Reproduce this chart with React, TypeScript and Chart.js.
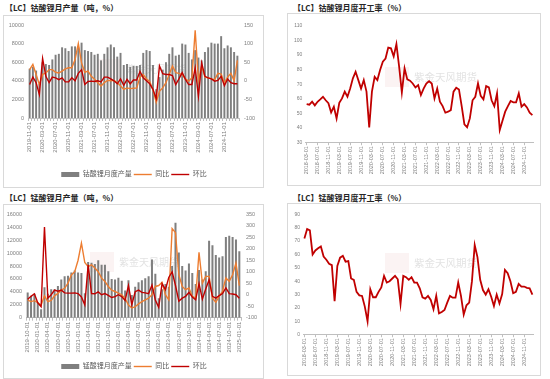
import React, { useEffect, useRef } from "react";
import { Chart, registerables } from "chart.js";
Chart.register(...registerables);

const FONT = '"Liberation Sans", "Noto Sans CJK SC", sans-serif';
const TICK_COLOR = "#7f7f7f";
const AXIS_COLOR = "#bfbfbf";
const BAR_COLOR = "#7f7f7f";
const ORANGE = "#ED7D31";
const RED = "#C00000";

function monthLabels(y: number, m: number, n: number): string[] {
  const out: string[] = [];
  for (let i = 0; i < n; i++) {
    const mm = ((m - 1 + i) % 12) + 1;
    const yy = y + Math.floor((m - 1 + i) / 12);
    out.push(`${yy}-${String(mm).padStart(2, "0")}-01`);
  }
  return out;
}

// ---- 钴酸锂月产量 (2019-11 .. 2025-03)
const lcoLabels = monthLabels(2019, 11, 65);
const lcoOutput = [
  5300, 5500, 5100, 3700, 6000, 5800, 5700, 6300, 6800, 6900,
  7600, 7500, 7200, 7700, 7700, 7600, 8100, 7300, 7200, 7100,
  6800, 6900, 6200, 6900, 7600, 7900, 7600, 6600, 7000, 5700,
  5800, 5500, 5600, 5600, 5700, 7000, 7300, 7200, 5700, 3100,
  4400, 5200, 6000, 6900, 7600, 6700, 6800, 8000, 7900, 7000,
  6300, 7300, 6500, 6200, 7100, 7600, 8100, 8000, 8000, 8800,
  7500, 7800, 7600, 7100, 6700,
];
const lcoYoY = [
  30, 44, 17, -10, 17, 21, 30, 30, 23, 21,
  26, 32, 35, 35, 57, 100, 48, 23, 26, 12,
  4, -5, -14, -5, 1, 0, 1, -5, -14, -23,
  -19, -21, -20, -19, 10, 17, 5, -2, -25, -58,
  -28, -19, -5, 17, 40, 22, 20, 17, 5, -1,
  8, 136, 0, 40, 10, 8, 5, 3, 20, 18,
  -5, 10, 20, 0, 55,
];
const lcoMoM = [
  -10, 10, -5, -37, 60, 12, -5, 10, 8, 3,
  8, -3, -3, 8, 0, 20, 30, -10, -2, -1,
  -2, 0, -3, 10, 10, 5, 0, -8, 5, -12,
  4, -8, 2, 2, 25, 8, 0, -8, -23, -48,
  40, 19, 17, 17, 14, -10, 5, 22, 4, -10,
  -10, 35, -41, 48, 12, 8, 5, -1, 1, 12,
  -13, 5, -5, -8, -8,
];

// ---- 钴酸锂月度开工率 (2018-03 .. 2025-02)
const lcoRateLabels = monthLabels(2018, 3, 84);
const lcoRate = [
  56.4, 56, 58, 55.5, 58, 59.6, 61.4, 59, 57, 50.7,
  54.6, 46.6, 57.3, 60.3, 64.9, 61.4, 67, 74, 78.5, 72.8,
  67, 72.8, 64.9, 40.5, 64.9, 75, 72.8, 79.7, 85.4, 87.6,
  95, 94.5, 89, 97.4, 82, 64.4, 80.8, 73.3, 72.4, 70.5,
  67.8, 69.4, 62.6, 67, 70.5, 72, 70.5, 60.3, 67, 58,
  55, 50.5, 51.2, 52.3, 64.9, 67.6, 66.4, 55, 42.5, 40.5,
  46.6, 59, 61.4, 70.5, 62, 59.6, 68.7, 67.8, 59, 55,
  63.7, 38.7, 45, 51.2, 55, 58.5, 57.6, 57.6, 63.7, 54.6,
  56.4, 54.1, 50.5, 48.9,
];

// ---- 锰酸锂月产量 (2019-10 .. 2025-01)
const lmoLabels = monthLabels(2019, 10, 64);
const lmoOutput = [
  3900, 3400, 3700, 2400, 1300, 4700, 3700, 4400, 4400, 4900,
  5900, 6400, 6500, 7000, 7300, 7000, 6900, 3800, 8600, 8500,
  8300, 8900, 8200, 8200, 7200, 6000, 5900, 6200, 5700, 4200,
  5800, 3500, 4800, 5500, 5800, 6100, 6400, 9000, 6800, 3000,
  4400, 5200, 4800, 8000, 14700, 10100, 8000, 7300, 8400, 6900,
  5200, 7400, 5900, 7200, 11900, 11200, 9700, 9300, 9500, 12500,
  12700, 12500, 12100, 10300,
];
const lmoYoY = [
  -23, -30, -26, -35, -45, -5, -30, -25, -5, 6,
  20, 28, 50, 86, 100, 150, 225, 140, 122, 130,
  116, 100, 72, 58, 36, 20, 14, 7, 0, -16,
  -45, -58, -52, -40, -30, -22, -15, 0, 36, 40,
  54, 0, -22, 288, 270, 87, 36, 22, 29, -7,
  -15, 185, 51, 80, 80, -15, -33, -7, 15, 73,
  58, 87, 138, 40,
];
const lmoMoM = [
  -20, -7, 4, -35, -52, 295, -15, 0, 20, 15,
  20, 8, 7, 7, 8, 5, -10, -44, 130, 5,
  4, 12, 0, 5, -3, -12, -8, 0, -8, -25,
  40, -43, 13, 20, 10, 8, 5, 42, -23, -55,
  48, 22, 75, 100, 40, -28, -15, -7, 10, -10,
  -22, 48, -19, 25, 65, -7, -15, -4, 5, 30,
  5, 3, 0, -15,
];

// ---- 锰酸锂月度开工率 (2018-03 .. 2025-02)
const lmoRateLabels = monthLabels(2018, 3, 84);
const lmoRate = [
  72, 79, 78, 60, 63, 64.6, 66, 58.4, 56, 53,
  52, 25, 51.4, 57.6, 59, 54.6, 55, 42, 41, 32,
  29.4, 29, 21, 10, 34, 28, 28, 32, 35.4, 44,
  39, 40, 42, 44, 41.4, 23, 44, 43, 41, 43,
  39, 39, 34.7, 28, 27, 29, 26, 19, 29, 16,
  17, 18.5, 24, 29, 27.7, 27.7, 39, 29, 15, 22,
  24, 40, 67, 58, 41, 33.4, 30, 34, 28.4, 21.4,
  30, 23.4, 30.4, 48.4, 46, 40, 31, 32, 38, 36,
  36, 35, 34.7, 30,
];

const watermark = {
  id: "wm",
  beforeDatasetsDraw(chart: any, _a: any, opts: any) {
    if (!opts || !opts.show) return;
    const { ctx } = chart;
    ctx.save();
    ctx.fillStyle = "rgba(220,140,140,0.10)";
    ctx.fillRect(opts.x, opts.y - 10, 24, 20);
    ctx.font = `${opts.size}px "Noto Sans CJK SC"`;
    ctx.fillStyle = "rgba(160,160,160,0.30)";
    ctx.textBaseline = "middle";
    ctx.fillText("紫金天风期货", opts.x + 29, opts.y);
    ctx.restore();
  },
};

function tickFont(size: number) {
  return { size, family: FONT };
}

function labelEvery(step: number, maxIdx: number) {
  return function (this: any, v: any, i: number) {
    return i % step === 0 && i <= maxIdx ? this.getLabelForValue(v) : "";
  };
}

const plain = (v: any) => String(v);

function comboConfig(o: any) {
  return {
    type: "bar",
    data: {
      labels: o.labels,
      datasets: [
        {
          type: "bar",
          label: o.barLabel,
          data: o.bars,
          backgroundColor: BAR_COLOR,
          borderWidth: 0,
          yAxisID: "y",
          order: 3,
          pointStyle: "rect",
          categoryPercentage: 0.8,
          barPercentage: 0.75,
        },
        {
          type: "line",
          label: "同比",
          data: o.yoy,
          borderColor: ORANGE,
          backgroundColor: ORANGE,
          borderWidth: 1.4,
          pointRadius: 0,
          tension: 0,
          yAxisID: "y1",
          order: 2,
          pointStyle: "line",
        },
        {
          type: "line",
          label: "环比",
          data: o.mom,
          borderColor: RED,
          backgroundColor: RED,
          borderWidth: 1.4,
          pointRadius: 0,
          tension: 0,
          yAxisID: "y1",
          order: 1,
          pointStyle: "line",
        },
      ],
    },
    options: {
      responsive: false,
      maintainAspectRatio: false,
      animation: false,
      layout: { padding: { left: 0, right: 0, top: o.padTop, bottom: 0 } },
      plugins: {
        tooltip: { enabled: false },
        legend: {
          position: "bottom",
          labels: {
            usePointStyle: true,
            pointStyleWidth: 18,
            boxHeight: 5,
            padding: 2,
            color: "#595959",
            font: { size: 7, family: FONT },
            sort: (a: any, b: any) => a.datasetIndex - b.datasetIndex,
          },
        },
        wm: o.wm,
      },
      scales: {
        x: {
          type: "category",
          offset: true,
          grid: {
            display: true,
            drawOnChartArea: false,
            drawTicks: true,
            tickLength: 3,
            color: AXIS_COLOR,
            offset: true,
          },
          border: { display: true, color: AXIS_COLOR },
          ticks: {
            autoSkip: false,
            maxRotation: 90,
            minRotation: 90,
            padding: 1,
            color: TICK_COLOR,
            font: tickFont(6),
            callback: labelEvery(o.labelStep, o.maxLabelIdx),
          },
          afterFit: (s: any) => {
            s.height = o.xHeight;
          },
        },
        y: {
          position: "left",
          min: 0,
          max: o.yMax,
          ticks: { stepSize: o.yStep, padding: 4, color: TICK_COLOR, font: tickFont(5.5), callback: plain },
          grid: { display: false, drawTicks: false },
          border: { display: false },
          afterFit: (s: any) => {
            s.width = o.yWidth;
          },
        },
        y1: {
          position: "right",
          min: -100,
          max: o.y1Max,
          ticks: { stepSize: 50, padding: 5, color: TICK_COLOR, font: tickFont(5.5), callback: plain },
          grid: { display: false, drawTicks: false },
          border: { display: false },
          afterFit: (s: any) => {
            s.width = o.y1Width;
          },
        },
      },
    },
    plugins: [watermark],
  };
}

function lineConfig(o: any) {
  return {
    type: "line",
    data: {
      labels: o.labels,
      datasets: [
        {
          label: o.label,
          data: o.values,
          borderColor: RED,
          backgroundColor: RED,
          borderWidth: 1.8,
          pointRadius: 0,
          tension: 0,
        },
      ],
    },
    options: {
      responsive: false,
      maintainAspectRatio: false,
      animation: false,
      layout: { padding: { left: 0, right: o.padRight, top: o.padTop, bottom: 0 } },
      plugins: {
        tooltip: { enabled: false },
        legend: { display: false },
        wm: o.wm,
      },
      scales: {
        x: {
          type: "category",
          offset: true,
          grid: {
            display: true,
            drawOnChartArea: false,
            drawTicks: true,
            tickLength: 2.5,
            color: (c: any) => (c.index % 4 === 0 ? AXIS_COLOR : "rgba(0,0,0,0)"),
          },
          border: { display: true, color: AXIS_COLOR },
          ticks: {
            autoSkip: false,
            maxRotation: 90,
            minRotation: 90,
            padding: 1,
            color: TICK_COLOR,
            font: tickFont(5.5),
            callback: labelEvery(4, 1000),
          },
          afterFit: (s: any) => {
            s.height = o.xHeight;
          },
        },
        y: {
          min: o.yMin,
          max: o.yMax,
          ticks: { stepSize: 10, padding: 3, color: TICK_COLOR, font: tickFont(5), callback: plain },
          grid: { display: false, drawTicks: false },
          border: { display: false },
          afterFit: (s: any) => {
            s.width = o.yWidth;
          },
        },
      },
    },
    plugins: [watermark],
  };
}

function ChartBox(props: { left: number; top: number; width: number; height: number; config: any }) {
  const ref = useRef<HTMLCanvasElement | null>(null);
  useEffect(() => {
    if (!ref.current) return;
    const chart = new Chart(ref.current, props.config);
    return () => chart.destroy();
  }, []);
  return (
    <canvas
      ref={ref}
      width={props.width}
      height={props.height}
      style={{
        position: "absolute",
        left: props.left,
        top: props.top,
        width: props.width,
        height: props.height,
      }}
    />
  );
}

const titleStyle = (left: number, top: number): React.CSSProperties => ({
  position: "absolute",
  left,
  top,
  fontFamily: '"Noto Sans CJK SC", sans-serif',
  fontWeight: 700,
  fontSize: 8,
  lineHeight: "10px",
  color: "#262626",
  whiteSpace: "nowrap",
});

const boxStyle = (left: number, top: number, width: number, height: number): React.CSSProperties => ({
  position: "absolute",
  left,
  top,
  width,
  height,
  border: "1px solid #d9d9d9",
  boxSizing: "border-box",
});

export default function App() {
  const tl = comboConfig({
    labels: lcoLabels,
    bars: lcoOutput,
    yoy: lcoYoY,
    mom: lcoMoM,
    barLabel: "钴酸锂月度产量",
    yMax: 10000,
    yStep: 1000,
    y1Max: 150,
    yWidth: 24,
    y1Width: 25,
    xHeight: 51,
    padTop: 9,
    labelStep: 4,
    maxLabelIdx: 60,
    wm: { show: true, x: 93, y: 53, size: 10 },
  });
  const bl = comboConfig({
    labels: lmoLabels,
    bars: lmoOutput,
    yoy: lmoYoY,
    mom: lmoMoM,
    barLabel: "锰酸锂月度产量",
    yMax: 16000,
    yStep: 2000,
    y1Max: 350,
    yWidth: 22,
    y1Width: 23,
    xHeight: 43.3,
    padTop: 9.3,
    labelStep: 3,
    maxLabelIdx: 1000,
    wm: { show: true, x: 86, y: 57, size: 10 },
  });
  const tr = lineConfig({
    labels: lcoRateLabels,
    values: lcoRate,
    label: "钴酸锂月度开工率",
    yMin: 30,
    yMax: 110,
    yWidth: 17.3,
    padRight: 1.3,
    padTop: 11.7,
    xHeight: 41.3,
    wm: { show: true, x: 97, y: 63, size: 10.5 },
  });
  const br = lineConfig({
    labels: lmoRateLabels,
    values: lmoRate,
    label: "锰酸锂月度开工率",
    yMin: 0,
    yMax: 90,
    yWidth: 15,
    padRight: 0,
    padTop: 10.3,
    xHeight: 39.3,
    wm: { show: true, x: 97, y: 59, size: 10.5 },
  });

  return (
    <div
      style={{
        position: "fixed",
        left: 0,
        top: 0,
        width: 550,
        height: 379,
        overflow: "hidden",
        background: "#ffffff",
      }}
    >
      <div style={titleStyle(5, 3)}>【LC】钴酸锂月产量（吨，%）</div>
      <div style={titleStyle(293, 3)}>【LC】钴酸锂月度开工率（%）</div>
      <div style={titleStyle(5, 193)}>【LC】锰酸锂月产量（吨，%）</div>
      <div style={titleStyle(293, 193)}>【LC】锰酸锂月度开工率（%）</div>
      <div style={boxStyle(3, 15, 261, 173)} />
      <div style={boxStyle(287, 13, 254, 173)} />
      <div style={boxStyle(3, 204, 261, 175)} />
      <div style={boxStyle(287, 203, 254, 173)} />
      <ChartBox left={4} top={16} width={260} height={172} config={tl} />
      <ChartBox left={288} top={14} width={252} height={170} config={tr} />
      <ChartBox left={4} top={205} width={260} height={175} config={bl} />
      <ChartBox left={288} top={204} width={252} height={170} config={br} />
    </div>
  );
}
